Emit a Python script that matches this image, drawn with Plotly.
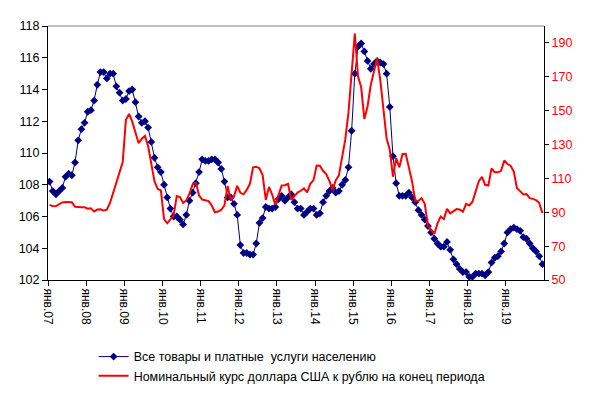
import plotly.graph_objects as go

years = ["07", "08", "09", "10", "11", "12", "13", "14", "15", "16", "17", "18", "19"]
tick_labels = ["янв." + y for y in years]

# Индекс потребительских цен (к соответствующему месяцу предыдущего года), %
cpi = [
    108.2, 107.6, 107.4, 107.6, 107.8, 108.5, 108.7, 108.6, 109.4, 110.8, 111.5, 111.9,
    112.6, 112.7, 113.3, 114.3, 115.1, 115.1, 114.7, 115.0, 115.0, 114.2, 113.8, 113.3,
    113.4, 113.9, 114.0, 113.2, 112.3, 111.9, 112.0, 111.6, 110.7, 109.7, 109.1, 108.8,
    108.0, 107.2, 106.5, 106.0, 106.0, 105.8, 105.5, 106.1, 107.0, 107.5, 108.1, 108.8,
    109.6, 109.5, 109.5, 109.6, 109.6, 109.4, 109.0, 108.2, 107.2, 107.2, 106.8, 106.1,
    104.2, 103.7, 103.7, 103.6, 103.6, 104.3, 105.6, 105.9, 106.6, 106.5, 106.5, 106.6,
    107.1, 107.3, 107.0, 107.2, 107.4, 106.9, 106.5, 106.5, 106.1, 106.3, 106.5, 106.5,
    106.1, 106.2, 106.9, 107.3, 107.6, 107.8, 107.5, 107.6, 108.0, 108.3, 109.1, 111.4,
    115.0, 116.7, 116.9, 116.4, 115.8, 115.3, 115.6, 115.8, 115.7, 115.6, 115.0, 112.9,
    109.8, 108.1, 107.3, 107.3, 107.3, 107.5, 107.2, 106.9, 106.4, 106.1, 105.8, 105.4,
    105.0, 104.6, 104.3, 104.1, 104.1, 104.4, 103.9, 103.3, 103.0, 102.7, 102.5, 102.5,
    102.2, 102.2, 102.4, 102.4, 102.4, 102.3, 102.5, 103.1, 103.4, 103.5, 103.8, 104.3,
    105.0, 105.2, 105.3, 105.2, 105.1, 104.7, 104.6, 104.3, 104.0, 103.8, 103.5, 103.0,
]

# Номинальный курс доллара США к рублю на конец периода (к тому же месяцу пред. года), %
usd = [
    94.4, 93.6, 93.7, 94.8, 95.8, 96.0, 96.0, 95.9, 93.2, 92.9, 92.9, 93.0,
    92.1, 92.3, 90.4, 91.6, 91.8, 91.0, 91.5, 95.5, 101.2, 107.5, 113.0, 119.7,
    144.6, 148.1, 143.5, 137.5, 130.8, 133.4, 135.2, 129.0, 119.2, 108.2, 103.8, 102.9,
    85.9, 83.5, 85.8, 88.0, 99.6, 99.0, 95.5, 97.0, 101.0, 106.5, 107.5, 100.0,
    97.5, 96.9, 96.6, 94.0, 90.0, 90.4, 91.5, 94.1, 105.5, 97.0, 99.5, 105.6,
    101.5, 100.6, 103.2, 106.8, 116.5, 116.9, 116.0, 112.0, 97.3, 105.0, 100.5, 94.5,
    100.5, 105.8, 106.0, 106.8, 97.3, 99.7, 101.6, 102.7, 104.1, 101.8, 106.8, 109.0,
    117.6, 117.5, 114.5, 112.5, 108.5, 103.2, 108.8, 111.9, 122.5, 133.0, 148.8, 171.9,
    195.6, 170.3, 163.8, 145.0, 152.5, 165.1, 174.0, 181.0, 168.2, 150.0, 133.5, 127.0,
    111.0, 122.0, 116.5, 124.4, 124.5, 116.5, 108.2, 96.7, 96.8, 98.3, 95.0, 82.0,
    79.8, 77.2, 83.4, 87.5, 86.0, 92.0, 89.4, 90.4, 91.9, 91.6, 90.3, 95.0,
    94.0, 96.2, 102.0, 108.3, 110.9, 106.2, 105.8, 115.9, 113.6, 113.6, 114.5, 120.6,
    118.5, 117.5, 114.0, 104.2, 102.5, 100.5, 100.8, 98.3, 97.9, 97.2, 95.5, 89.5,
]

name_cpi = "Все товары и платные  услуги населению"
name_usd = "Номинальный курс доллара США к рублю на конец периода"

months = list(range(len(cpi)))
tick_vals = [12 * i - 0.5 for i in range(len(years))]

FONT = "Liberation Sans, Arial, sans-serif"

fig = go.Figure()
fig.add_trace(go.Scatter(
    x=months, y=cpi, name=name_cpi, mode="lines+markers",
    line=dict(color="#000080", width=1),
    marker=dict(symbol="diamond", size=6, color="#000080"),
))
fig.add_trace(go.Scatter(
    x=months, y=usd, name=name_usd, mode="lines", yaxis="y2",
    line=dict(color="#FF0000", width=2),
))

fig.update_layout(
    width=584, height=387,
    margin=dict(l=40, r=48, t=18, b=115, autoexpand=False),
    paper_bgcolor="white", plot_bgcolor="white",
    font=dict(family=FONT, size=12.5, color="black"),
    showlegend=True,
    legend=dict(x=0.092, y=-0.244, xanchor="left", yanchor="top",
                orientation="v", font=dict(size=12.5, color="black"),
                bgcolor="rgba(0,0,0,0)", tracegroupgap=0, itemwidth=30),
    xaxis=dict(
        range=[-0.5, len(cpi) - 0.5], tickmode="array",
        tickvals=tick_vals, ticktext=tick_labels, tickangle=90,
        showline=True, linecolor="black", linewidth=1,
        ticks="outside", ticklen=5, tickcolor="black", automargin=False,
        showgrid=False, zeroline=False, tickfont=dict(size=12),
    ),
    yaxis=dict(
        range=[102, 118], dtick=2, tick0=102, automargin=False,
        showline=True, linecolor="black", linewidth=1,
        ticks="outside", ticklen=5, tickcolor="black",
        showgrid=False, zeroline=False, tickfont=dict(size=12.5, color="black"),
    ),
    yaxis2=dict(
        range=[50, 200], dtick=20, tick0=50, overlaying="y", side="right",
        showline=True, linecolor="black", linewidth=1, automargin=False,
        ticks="outside", ticklen=4, tickcolor="black",
        showgrid=False, zeroline=False, tickfont=dict(size=12.5, color="#FF0000"),
    ),
    shapes=[dict(type="line", xref="paper", yref="paper", x0=0, x1=1, y0=1, y1=1,
                 line=dict(color="#808080", width=1))],
)

fig.write_html("out.html")
